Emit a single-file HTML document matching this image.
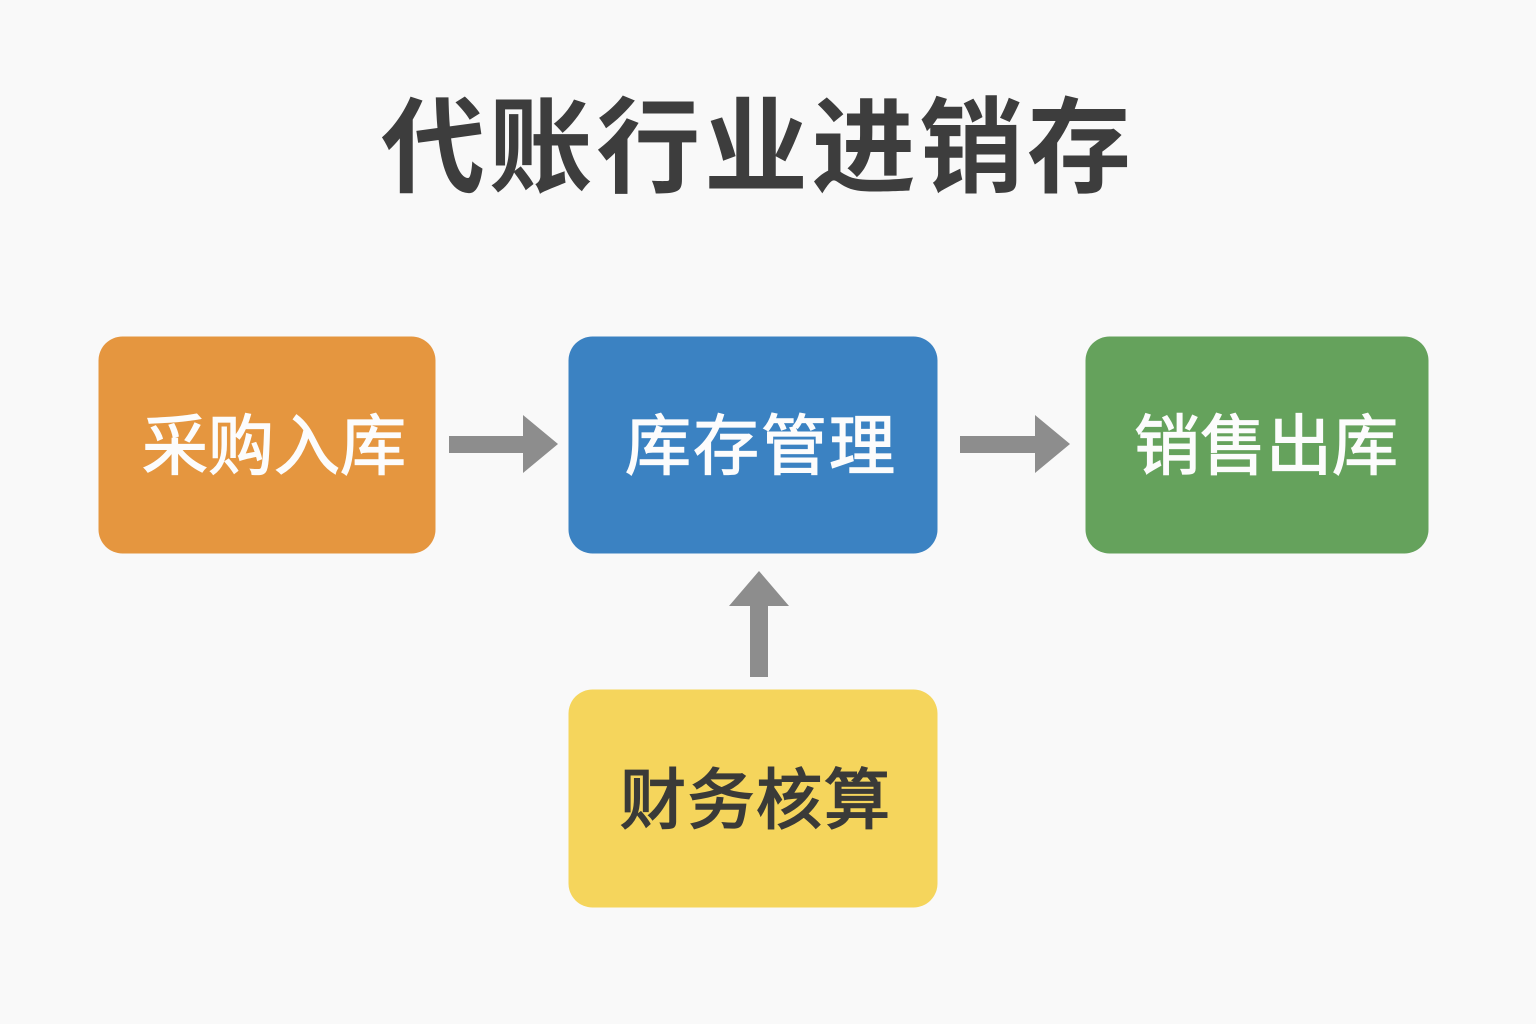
<!DOCTYPE html>
<html lang="zh">
<head>
<meta charset="utf-8">
<style>
html,body{margin:0;padding:0;width:1536px;height:1024px;background:#f9f9f9;overflow:hidden}
svg{display:block}
text{font-family:"Liberation Sans","Noto Sans CJK SC",sans-serif}
</style>
</head>
<body>
<svg width="1536" height="1024" viewBox="0 0 1536 1024" xmlns="http://www.w3.org/2000/svg">
<rect width="1536" height="1024" fill="#f9f9f9"/>
<text x="756" y="184" font-size="104" font-weight="700" fill="#3d3d3d" text-anchor="middle" textLength="750" lengthAdjust="spacing">代账行业进销存</text>

<rect x="98.500" y="336.500" width="337" height="217" rx="24" fill="#e5963f"/>
<rect x="568.500" y="336.500" width="369" height="217" rx="24" fill="#3b82c2"/>
<rect x="1085.500" y="336.500" width="343" height="217" rx="24" fill="#65a25c"/>
<rect x="568.500" y="689.500" width="369" height="218" rx="24" fill="#f5d55c"/>

<g font-size="66" font-weight="400" fill="#fcfcfc" stroke="#fcfcfc" stroke-width="1.300" text-anchor="middle">
<text x="274" y="469" textLength="264" lengthAdjust="spacing">采购入库</text>
<text x="760" y="469" textLength="270" lengthAdjust="spacing">库存管理</text>
<text x="1266" y="469" textLength="264" lengthAdjust="spacing">销售出库</text>
</g>
<text x="755" y="823" font-size="66" font-weight="400" fill="#3a3a38" stroke="#3a3a38" stroke-width="1.800" text-anchor="middle" textLength="270" lengthAdjust="spacing">财务核算</text>

<polygon points="449,436 523,436 523,415 558,444 523,473 523,453 449,453" fill="#8d8d8d"/>
<polygon points="960,436 1035,436 1035,415 1070,444 1035,473 1035,453 960,453" fill="#8d8d8d"/>
<polygon points="750,677 750,606 729,606 759,571 789,606 768,606 768,677" fill="#8d8d8d"/>
</svg>
</body>
</html>
